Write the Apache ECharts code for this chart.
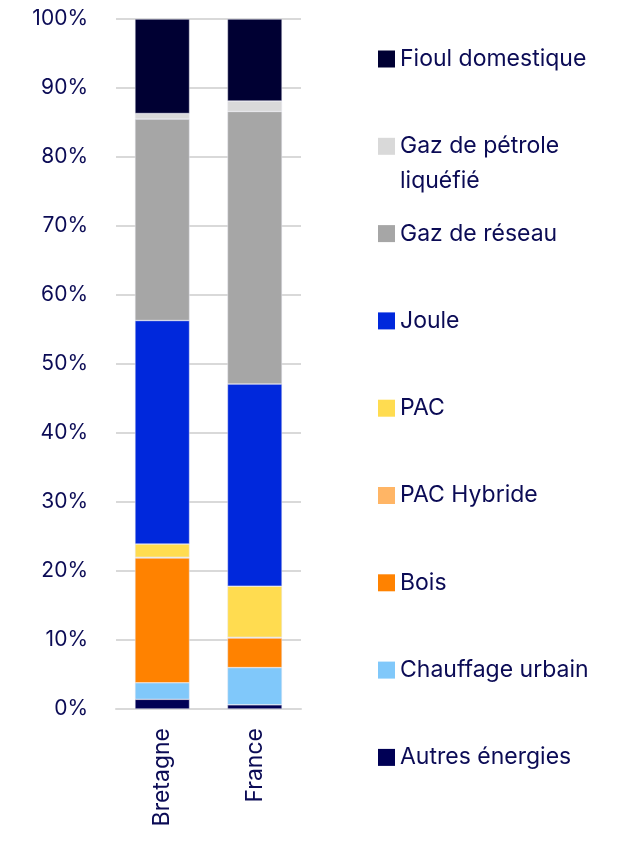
<!DOCTYPE html>
<html>
<head>
<meta charset="utf-8">
<script src="https://cdn.jsdelivr.net/npm/echarts@6/dist/echarts.min.js"></script>
<style>
  html, body { margin: 0; padding: 0; background: #fff; }
  #chart { width: 636px; height: 841px; }
</style>
</head>
<body>
<div id="chart"></div>
<script>
const regions = ['Bretagne', 'France'];

// parts in % (bottom to top of the stack)
const autres = [1.4, 0.6];
const chauffageUrbain = [2.4, 5.4];
const bois = [18.1, 4.3];
const pacHybride = [0.1, 0.1];
const pac = [1.9, 7.4];
const joule = [32.4, 29.3];
const gazReseau = [29.2, 39.5];
const gpl = [0.8, 1.5];
const fioul = [13.7, 11.9];

const yTicks = [0, 10, 20, 30, 40, 50, 60, 70, 80, 90, 100];

const textColor = '#0b0b55';
const font = 'Inter';

const stack = [
  {name: 'Autres énergies', data: autres, color: '#000055'},
  {name: 'Chauffage urbain', data: chauffageUrbain, color: '#80c8fa'},
  {name: 'Bois', data: bois, color: '#ff8200'},
  {name: 'PAC Hybride', data: pacHybride, color: '#ffb565'},
  {name: 'PAC', data: pac, color: '#ffdc50'},
  {name: 'Joule', data: joule, color: '#0028dc'},
  {name: 'Gaz de réseau', data: gazReseau, color: '#a6a6a6'},
  {name: 'Gaz de pétrole liquéfié', data: gpl, color: '#d9d9d9'},
  {name: 'Fioul domestique', data: fioul, color: '#000033'}
];

// one legend per entry so the icons keep an even step, top to bottom
const legendOrder = stack.map(s => s.name).reverse();
const legends = legendOrder.map((name, i) => ({
  data: [name],
  left: 378,
  top: 41.5 + i * 87.3,
  padding: 0,
  icon: 'rect',
  itemWidth: 17,
  itemHeight: 17,
  itemGap: 0,
  itemStyle: {borderWidth: 0},
  selectedMode: false,
  textStyle: {
    color: textColor,
    fontFamily: font,
    fontSize: 23,
    lineHeight: 35
  },
  formatter: n => n === 'Gaz de pétrole liquéfié' ? 'Gaz de pétrole' : n
}));

const chart = echarts.init(document.getElementById('chart'));

chart.setOption({
  animation: false,
  legend: legends,
  grid: {
    left: 116,
    right: 335,
    top: 19,
    bottom: 132
  },
  xAxis: {
    type: 'category',
    data: regions,
    axisLine: {lineStyle: {color: '#d9d9d9', width: 2}},
    axisTick: {show: false},
    axisLabel: {
      rotate: 90,
      margin: 19,
      color: textColor,
      fontFamily: font,
      fontSize: 23
    }
  },
  yAxis: {
    type: 'value',
    min: yTicks[0],
    max: yTicks[yTicks.length - 1],
    interval: yTicks[1] - yTicks[0],
    axisLine: {show: false},
    axisTick: {show: false},
    splitLine: {lineStyle: {color: '#d9d9d9', width: 2}},
    axisLabel: {
      margin: 28,
      color: textColor,
      fontFamily: font,
      fontSize: 21,
      formatter: '{value}%'
    }
  },
  series: stack.map(s => ({
    name: s.name,
    type: 'bar',
    stack: 'total',
    barWidth: '59%',
    data: s.data,
    itemStyle: {color: s.color, borderColor: '#e8e8f0', borderWidth: 0.5}
  })),
  // second line of the GPL legend entry, sits under the first one
  graphic: [{
    type: 'text',
    x: 400,
    y: 181,
    style: {
      text: 'liquéfié',
      fill: textColor,
      font: '23px Inter',
      verticalAlign: 'middle'
    }
  }]
});
</script>
</body>
</html>
